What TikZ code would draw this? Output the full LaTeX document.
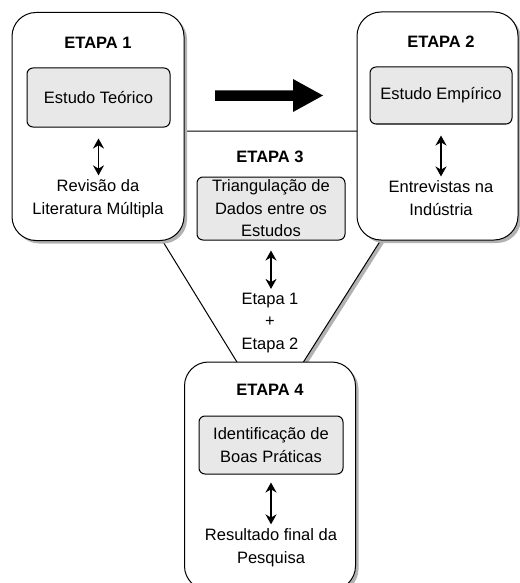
\documentclass[tikz,border=0pt]{standalone}
\usepackage{fontspec}
\setmainfont{Liberation Sans}
\usetikzlibrary{shadows,arrows.meta}
\begin{document}
\begin{tikzpicture}[x=1pt,y=-1pt,
  font=\fontsize{16.5}{22.5}\selectfont,
  shad/.style={drop shadow={shadow xshift=3pt,shadow yshift=-3pt,fill=black!30,opacity=1}},
  stage/.style={draw=black,line width=1pt,fill=white,rounded corners=24pt,shad,inner sep=0pt},
  inner/.style={draw=black,line width=1pt,fill=black!9,rounded corners=6pt,align=center,inner sep=0pt},
  title/.style={font=\fontsize{16.5}{22.5}\selectfont\bfseries},
  txt/.style={align=center,inner sep=0pt},
  dbl/.style={line width=1.6pt,{Stealth[length=10pt,width=11pt]}-{Stealth[length=10pt,width=11pt]}}
]
\useasboundingbox (0,0) rectangle (519,583);
% stage 3 shape
\path[draw=black,line width=1pt,fill=white,shad] (95,131) -- (450,131) -- (292,380) -- (248,380) -- cycle;
% stage boxes
\node[stage,minimum width=172pt,minimum height=228pt] (s1) at (98,126.5) {};
\node[stage,minimum width=161pt,minimum height=228pt] (s2) at (437.5,126) {};
\node[stage,minimum width=171pt,minimum height=228pt] (s4) at (270,476) {};
% titles
\node[title] (e1) at (98,43) {ETAPA 1};
\node[title] (e2) at (441,42) {ETAPA 2};
\node[title] (e3) at (270,157) {ETAPA 3};
\node[title] (e4) at (270,390) {ETAPA 4};
% inner boxes
\node[inner,minimum width=143pt,minimum height=59pt] (b1) at (98.5,97.5) {Estudo Teórico};
\node[inner,minimum width=142pt,minimum height=57pt] (b2) at (441,95.5) {Estudo Empírico};
\node[inner,minimum width=148pt,minimum height=63pt] (b3) at (271,208.5) {Triangulação de\\Dados entre os\\Estudos};
\node[inner,minimum width=144pt,minimum height=58pt] (b4) at (271,445) {Identificação de\\Boas Práticas};
% texts
\node[txt] (t1) at (98,198.5) {Revisão da\\Literatura Múltipla};
\node[txt] (t2) at (441,198) {Entrevistas na\\Indústria};
\node[txt] (t3) at (270,323) {Etapa 1\\+\\Etapa 2};
\node[txt] (t4) at (271,547.5) {Resultado final da\\Pesquisa};
% double arrows
\draw[dbl,shorten <=11pt,shorten >=4pt] (b1.south) -- (b1.south |- t1.north);
\draw[dbl,shorten <=11pt,shorten >=4pt] (b2.south) -- (b2.south |- t2.north);
\draw[dbl,shorten <=10pt,shorten >=4pt] (b3.south) -- (b3.south |- t3.north);
\draw[dbl,shorten <=8pt,shorten >=4pt] (b4.south) -- (b4.south |- t4.north);
% big arrow
\fill[black] (215,90.5) -- (293,90.5) -- (293,79) -- (323,95.5) -- (293,112) -- (293,101) -- (215,101) -- cycle;
\end{tikzpicture}
\end{document}
